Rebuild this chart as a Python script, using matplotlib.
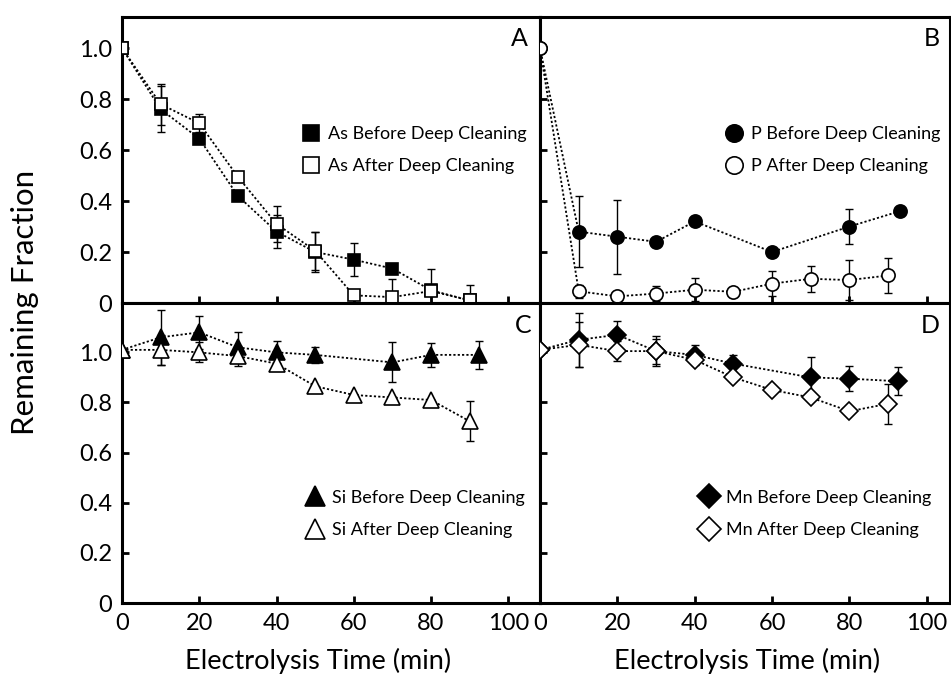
import matplotlib
matplotlib.use("Agg")
import matplotlib.pyplot as plt
from matplotlib.lines import Line2D

plt.rcParams['font.family'] = ['Lato', 'DejaVu Sans']

# ---- data ----
t_full = [0, 10, 20, 30, 40, 50, 60, 70, 80, 90]

as_before = [1.0, 0.76, 0.645, 0.42, 0.28, 0.20, 0.17, 0.135, 0.05, 0.01]
as_before_err = [0, 0.09, 0, 0, 0.065, 0.08, 0.065, 0, 0.085, 0]
as_after = [1.0, 0.78, 0.705, 0.495, 0.31, 0.205, 0.03, 0.023, 0.047, 0.01]
as_after_err = [0, 0.08, 0.035, 0, 0.07, 0.075, 0, 0.07, 0, 0.06]

t_p_before = [0, 10, 20, 30, 40, 60, 80, 93]
p_before = [1.0, 0.28, 0.26, 0.24, 0.32, 0.20, 0.30, 0.36]
p_before_err = [0, 0.14, 0.145, 0, 0, 0, 0.07, 0]
p_after = [1.0, 0.046, 0.026, 0.037, 0.052, 0.044, 0.076, 0.095, 0.090, 0.108]
p_after_err = [0, 0.026, 0.01, 0.03, 0.045, 0.015, 0.05, 0.05, 0.077, 0.067]

t_si_before = [0, 10, 20, 30, 40, 50, 70, 80, 92.5]
si_before = [1.01, 1.06, 1.08, 1.02, 1.0, 0.99, 0.96, 0.99, 0.99]
si_before_err = [0, 0.11, 0.065, 0.06, 0.045, 0.033, 0.08, 0.047, 0.055]
si_after = [1.01, 1.01, 1.0, 0.985, 0.955, 0.865, 0.83, 0.82, 0.81, 0.725]
si_after_err = [0, 0.06, 0.04, 0.04, 0, 0, 0, 0, 0, 0.08]

t_mn_before = [0, 10, 20, 30, 40, 50, 70, 80, 92.5]
mn_before = [1.01, 1.05, 1.07, 1.005, 0.99, 0.955, 0.90, 0.895, 0.885]
mn_before_err = [0, 0.107, 0.056, 0.06, 0.04, 0.035, 0.08, 0.05, 0.055]
mn_after = [1.01, 1.03, 1.005, 1.005, 0.97, 0.90, 0.85, 0.82, 0.765, 0.795]
mn_after_err = [0, 0.09, 0.04, 0.05, 0, 0, 0, 0, 0, 0.08]

x_ticks = [0, 20, 40, 60, 80, 100]
y_ticks = [0, 0.2, 0.4, 0.6, 0.8, 1.0]
y_ticklabels = ['0', '0.2', '0.4', '0.6', '0.8', '1.0']

W, H = 951, 679
fig = plt.figure(figsize=(W / 100, H / 100), dpi=100)


def px_axes(x0, y0, x1, y1):
    return fig.add_axes([x0 / W, 1 - y1 / H, (x1 - x0) / W, (y1 - y0) / H])


axA = px_axes(122, 17, 540, 303)
axB = px_axes(540, 17, 950, 303)
axC = px_axes(122, 303, 540, 603)
axD = px_axes(540, 303, 950, 603)


def draw_series(ax, x, y, err, marker, filled, ms):
    ax.errorbar(x, y, yerr=err, fmt='none', ecolor='black', elinewidth=1.0,
                capsize=2.8, capthick=1.0, zorder=2)
    ax.plot(x, y, linestyle=(0, (1.2, 1.2)), color='black', linewidth=1.3,
            marker=marker, markersize=ms,
            markerfacecolor='black' if filled else 'white',
            markeredgecolor='black', markeredgewidth=1.2, zorder=3)


draw_series(axA, t_full, as_before, as_before_err, 's', True, 9)
draw_series(axA, t_full, as_after, as_after_err, 's', False, 9)
draw_series(axB, t_p_before, p_before, p_before_err, 'o', True, 9.5)
draw_series(axB, t_full, p_after, p_after_err, 'o', False, 9.5)
draw_series(axC, t_si_before, si_before, si_before_err, '^', True, 11)
draw_series(axC, t_full, si_after, si_after_err, '^', False, 11)
draw_series(axD, t_mn_before, mn_before, mn_before_err, 'D', True, 9)
draw_series(axD, t_full, mn_after, mn_after_err, 'D', False, 9)

legends = [
    (axA, 's', 'As', 12, (0.431, 0.535)),
    (axB, 'o', 'P', 12.5, (0.451, 0.535)),
    (axC, '^', 'Si', 15, (0.44, 0.297)),
    (axD, 'D', 'Mn', 12.5, (0.39, 0.297)),
]
for ax, mk, el, ms, anchor in legends:
    handles = [
        Line2D([], [], linestyle='none', marker=mk, markersize=ms,
               markerfacecolor='black', markeredgecolor='black', markeredgewidth=1.2),
        Line2D([], [], linestyle='none', marker=mk, markersize=ms,
               markerfacecolor='white', markeredgecolor='black', markeredgewidth=1.2),
    ]
    labels = [f'{el} Before Deep Cleaning', f'{el} After Deep Cleaning']
    ax.legend(handles, labels, loc='center left', bbox_to_anchor=anchor,
              frameon=False, fontsize=13, handlelength=1.0, handletextpad=0.45,
              labelspacing=0.9, borderpad=0, borderaxespad=0)

panel_pos = {axA: ('A', 0.95), axB: ('B', 0.956), axC: ('C', 0.96), axD: ('D', 0.951)}
for ax, (letter, px) in panel_pos.items():
    ax.text(px, 0.925, letter, transform=ax.transAxes, ha='center', va='center',
            fontsize=18)

for ax, xmax, ymax in [(axA, 108.2, 1.122), (axB, 106, 1.122),
                       (axC, 108.2, 1.197), (axD, 106, 1.197)]:
    ax.set_xlim(0, xmax)
    ax.set_ylim(0, ymax)
    ax.set_xticks(x_ticks)
    ax.set_yticks(y_ticks)
    ax.set_yticklabels(y_ticklabels)
    ax.tick_params(direction='in', length=5, width=2, labelsize=17, pad=7)
    for s in ax.spines.values():
        s.set_linewidth(2.2)

for ax in (axA, axB):
    ax.tick_params(labelbottom=False)
for ax in (axB, axD):
    ax.tick_params(labelleft=False)

fig.text(25 / W, 1 - 302 / H, 'Remaining Fraction', rotation=90,
         ha='center', va='center', fontsize=22.5)
fig.text(318 / W, 1 - 661 / H, 'Electrolysis Time (min)', ha='center', va='center',
         fontsize=19.5)
fig.text(747 / W, 1 - 661 / H, 'Electrolysis Time (min)', ha='center', va='center',
         fontsize=19.5)

fig.savefig('out.png', dpi=100)
